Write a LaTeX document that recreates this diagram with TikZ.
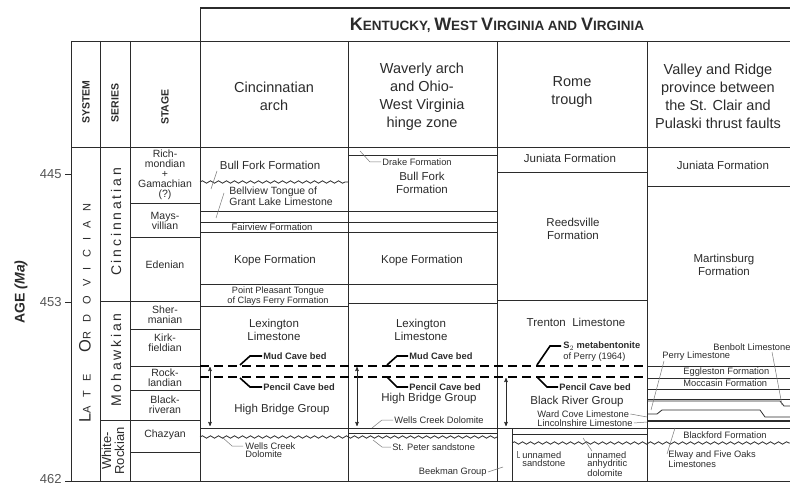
\documentclass[tikz,border=0pt]{standalone}
\usepackage{fontspec}
\setmainfont{Liberation Sans}
\usepackage{xcolor}
\usetikzlibrary{arrows,decorations.pathmorphing}
\definecolor{ink}{HTML}{2B2B2B}
\definecolor{leadc}{HTML}{7A7A7A}
\definecolor{agec}{HTML}{555555}
\newcommand\fsz[2]{\fontsize{#1}{#2}\selectfont}
\newcommand\tcap[1]{{\fontsize{18}{18}\selectfont #1}}
\newcommand\scap[1]{{\fontsize{16.5}{16.5}\selectfont #1}}

\begin{document}
\begin{tikzpicture}[x=1pt,y=-1pt,>=stealth',line width=0.8pt,
  every node/.style={text=ink,inner sep=1pt},
  hd/.style={font=\fsz{14.5}{18},align=center},
  colhd/.style={rotate=90,font=\bfseries\fsz{10.5}{11}},
  stagetxt/.style={font=\fsz{10.5}{10},align=center},
  fm/.style={font=\fsz{11.5}{13.5},align=center},
  sm/.style={font=\fsz{9.3}{8.6},align=left,anchor=west},
  bed/.style={font=\bfseries\fsz{9.3}{10},anchor=west},
  gline/.style={draw=ink},
  leader/.style={draw=leadc,line width=0.5pt},
  bedlead/.style={draw=black,line width=1.6pt},
  bedcut/.style={draw=black,line width=1.6pt,dash pattern=on 9pt off 5pt},
  wavy/.style={draw=ink,decorate,decoration={snake,amplitude=1.2pt,segment length=8pt}},
  spanarrow/.style={<->,draw=ink,line width=0.6pt}]
  \useasboundingbox (0,0) rectangle (790,486);

  \draw[gline,line width=1.2pt] (200,8) -- (790,8);
  \draw[gline] (200,8) -- (200,481);
  \draw[gline] (71,41) -- (790,41) (71,147) -- (790,147) (71,481) -- (790,481);
  \foreach \x in {71,100,130,348,497,647} \draw[gline] (\x,41) -- (\x,481);
  \draw[gline] (100,301) -- (200,301) (100,420) -- (200,420);
  \foreach \y in {203,237,329,366,390,452} \draw[gline] (130,\y) -- (200,\y);
  \foreach \y/\a/\t in {174/445/174,302/453/302,481/462/479.5} {
    \draw[gline] (65,\y) -- (71,\y);
    \node[anchor=east,text=agec,font=\fsz{13}{13},inner sep=0pt] (age\a) at (62,\t) {\a};
  }

  \node[font=\bfseries\fsz{13.5}{14}] (title) at (497,25) {\tcap{K}ENTUCKY, \tcap{W}EST \tcap{V}IRGINIA AND \tcap{V}IRGINIA};
  \node[colhd] (hSys) at (86,102) {SYSTEM};
  \node[colhd] (hSer) at (115,103) {SERIES};
  \node[colhd] (hSta) at (165,107) {STAGE};
  \node[hd] (hCin) at (274,96) {Cincinnatian\\arch};
  \node[hd] (hWav) at (422,97) {Waverly arch\\and Ohio-\\West Virginia\\hinge zone};
  \node[hd] (hRom) at (572,92) {Rome\\trough};
  \node[hd] (hVal) at (718,96) {Valley and Ridge\\province between\\the St. Clair and\\Pulaski thrust faults};

  \node[rotate=90,font=\bfseries\fsz{14}{14}] (ageLabel) at (21,292) {AGE \textit{(Ma)}};
  \node[rotate=90,font=\fsz{11}{11}] (sysLO) at (85,313) {\addfontfeature{LetterSpace=85}\scap{L}ATE\hspace{22pt}\scap{O}RDOVICIAN};
  \node[rotate=90,font=\fsz{14}{14}] (serCin) at (116,222) {\addfontfeature{LetterSpace=20}Cincinnatian};
  \node[rotate=90,font=\fsz{14}{14}] (serMoh) at (116,360) {\addfontfeature{LetterSpace=20}Mohawkian};
  \node[rotate=90,font=\fsz{13}{13},align=center] (serWR) at (113,451) {White-\\Rockian};

  \node[stagetxt] (richm)  at (165,175) {Rich-\\mondian\\+\\Gamachian\\(?)};
  \node[stagetxt] (maysv)  at (165,221) {Mays-\\villian};
  \node[stagetxt] (eden)   at (165,265) {Edenian};
  \node[stagetxt] (sherm)  at (165,315) {Sher-\\manian};
  \node[stagetxt] (kirk)   at (165,343) {Kirk-\\fieldian};
  \node[stagetxt] (rockl)  at (165,378) {Rock-\\landian};
  \node[stagetxt] (blackr) at (165,405) {Black-\\riveran};
  \node[stagetxt] (chazy)  at (165,435) {Chazyan};

  \draw[gline] (200,211) -- (497,211) (200,222) -- (497,222) (200,232) -- (497,232) (200,284) -- (497,284);
  \draw[gline] (200,306) -- (348,306) (348,303) -- (497,303) (348,155) -- (497,155);
  \draw[gline] (200,428) -- (790,428) (348,433) -- (497,433);
  \draw[wavy] (200,182) -- (348,182);
  \draw[wavy] (200,437) -- (497,437);
  \draw[gline] (497,172) -- (647,172) (497,300) -- (647,300) (512,434) -- (647,434) (512,428) -- (512,481);
  \draw[wavy] (512,443) -- (790,443);
  \foreach \y in {186,366,378,389,399} \draw[gline] (647,\y) -- (790,\y);
  \draw[gline] (647,401) -- (780,401) -- (784,406) -- (790,406);
  \draw[gline] (647,414) -- (657,414) -- (662,410) -- (760,410) -- (765,417) -- (790,417);
  \draw[gline,line width=1.2pt] (647,421) -- (790,421);
  \draw[bedcut] (200,366) -- (647,366) (200,377) -- (647,377);
  \draw[spanarrow] (210,367) -- (210,426);
  \draw[spanarrow] (357,367) -- (357,426);
  \draw[spanarrow] (506,378) -- (506,426);

  \node[fm] (bullForkC) at (270,165) {Bull Fork Formation};
  \node[sm,font=\fsz{10.5}{11}] (bellview) at (228,196) {Bellview Tongue of\\Grant Lake Limestone};
  \node[font=\fsz{9.5}{9.5}] (fairview) at (272,227) {Fairview Formation};
  \node[fm] (kopeC) at (275,261) {Kope Formation};
  \node[font=\fsz{9.2}{8.5},align=center] (pointPl) at (278,296) {Point Pleasant Tongue\\of Clays Ferry Formation};
  \node[fm] (lexC) at (274,330) {Lexington\\Limestone};
  \node[bed] (mudC) at (262,356) {Mud Cave bed};
  \node[bed] (pencilC) at (262,387) {Pencil Cave bed};
  \node[fm] (hbgC) at (282,410) {High Bridge Group};
  \node[sm] (wcdC) at (244,450) {Wells Creek\\Dolomite};
  \draw[leader] (217,171) -- (211,189) (224,193) -- (216,218);
  \draw[bedlead] (240,365) -- (250,356) -- (mudC.west);
  \draw[bedlead] (240,378) -- (250,387) -- (pencilC.west);
  \draw[leader] (222,437) -- (232,446) -- (243,446);

  \node[sm] (drake) at (381,162) {Drake Formation};
  \node[fm] (bullForkW) at (422,183) {Bull Fork\\Formation};
  \node[fm] (kopeW) at (422,261) {Kope Formation};
  \node[fm] (lexW) at (421,330) {Lexington\\Limestone};
  \node[bed] (mudW) at (408,356) {Mud Cave bed};
  \node[bed] (pencilW) at (408,387) {Pencil Cave bed};
  \node[fm] (hbgW) at (429,399) {High Bridge Group};
  \node[sm] (wcdW) at (393,420) {Wells Creek Dolomite};
  \node[sm] (stPeter) at (391,447) {St. Peter sandstone};
  \node[sm,anchor=east] (beekman) at (488,472) {Beekman Group};
  \draw[leader] (360,151) -- (370,162) -- (drake.west);
  \draw[bedlead] (387,365) -- (397,356) -- (mudW.west);
  \draw[bedlead] (387,377) -- (397,387) -- (pencilW.west);
  \draw[leader] (372,428) -- (382,420) -- (wcdW.west);
  \draw[leader] (373,440) -- (382,447) -- (stPeter.west);
  \draw[leader] (beekman.east) -- (503,467);

  \node[fm] (juniataR) at (570,158) {Juniata Formation};
  \node[fm] (reeds) at (573,229) {Reedsville\\Formation};
  \node[fm] (trenton) at (576,322) {Trenton\ \ Limestone};
  \node[sm,font=\fsz{9.3}{11}] (meta) at (562,352) {\textbf{S$_2$ metabentonite}\\of Perry (1964)};
  \node[bed] (pencilR) at (558,387) {Pencil Cave bed};
  \node[fm] (brg) at (577,402) {Black River Group};
  \node[sm] (wardCove) at (536,414) {Ward Cove Limestone};
  \node[sm] (lincoln) at (536,423) {Lincolnshire Limestone};
  \node[sm] (unsand) at (521,459) {unnamed\\sandstone};
  \node[sm] (unanh) at (586,464) {unnamed\\anhydritic\\dolomite};
  \draw[bedlead] (537,365) -- (550,346) -- (561,346);
  \draw[bedlead] (537,377) -- (547,387) -- (pencilR.west);
  \draw[leader] (wardCove.east) -- (647,417);
  \draw[leader] (lincoln.east) -- (647,422);
  \draw[leader] (517,451) -- (517,457) -- (520,457);
  \draw[leader] (583,438) -- (592,451);

  \node[fm] (juniataV) at (723,165) {Juniata Formation};
  \node[fm] (martins) at (724,265) {Martinsburg\\Formation};
  \node[sm] (benbolt) at (712,347) {Benbolt Limestone};
  \node[sm] (perryLs) at (661,356) {Perry Limestone};
  \node[sm] (eggl) at (682,372) {Eggleston Formation};
  \node[sm] (mocc) at (682,383) {Moccasin Formation};
  \node[sm] (blackf) at (682,435) {Blackford Formation};
  \node[sm] (elway) at (667,459) {Elway and Five Oaks\\Limestones};
  \draw[leader] (772,352) -- (782,405);
  \draw[leader] (664,361) -- (651,410);
  \draw[leader] (675,428) -- (667,454);
\end{tikzpicture}
\end{document}
